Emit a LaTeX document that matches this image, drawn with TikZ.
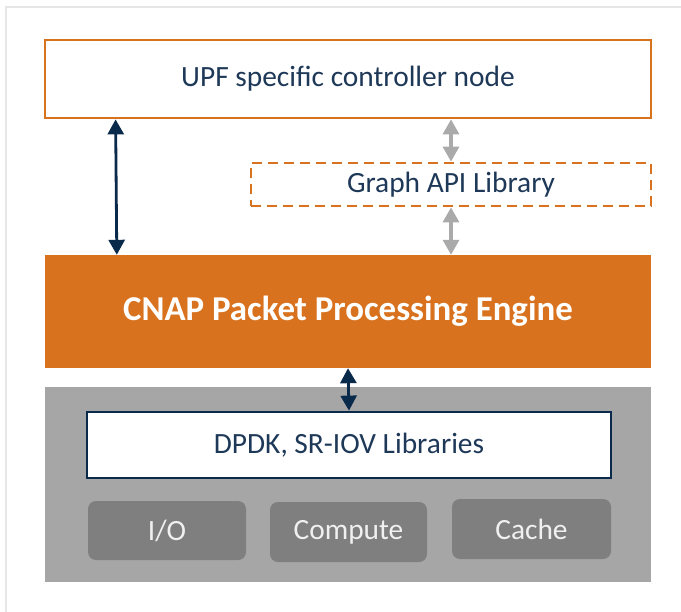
\documentclass[tikz,border=0pt]{standalone}
\usepackage{fontspec}
\setmainfont{Carlito}
\usetikzlibrary{arrows.meta}
\definecolor{cnaporange}{RGB}{217,114,31}
\definecolor{navy}{RGB}{10,42,76}
\definecolor{textblue}{RGB}{30,56,88}
\definecolor{blockgray}{RGB}{166,166,166}
\definecolor{unitgray}{RGB}{127,127,127}
\definecolor{arrowgray}{RGB}{170,170,170}
\definecolor{framegray}{RGB}{230,230,230}
\begin{document}
\begin{tikzpicture}[x=1bp,y=-1bp,
    layer/.style={draw=cnaporange,line width=2.8bp,fill=white,text=textblue,
        minimum width=606bp,minimum height=78bp,inner sep=0pt},
    unit/.style={fill=unitgray,rounded corners=8bp,text=white!94!black,
        minimum width=158bp,minimum height=59bp,inner sep=0pt},
    link/.style={{Triangle[width=16bp,length=15bp]}-{Triangle[width=16bp,length=15bp]},
        line width=2.8bp,draw=navy},
    apilink/.style={link,draw=arrowgray,line width=3.2bp}]
    \fontsize{29.5}{33}\selectfont
    \useasboundingbox (0,0) rectangle (681,612);
    \draw[framegray,line width=1.5bp] (6,612) -- (6,7) -- (681,7);
    \node[layer] (upf) at (348,79) {UPF specific controller node};
    \node[layer,dashed,dash pattern=on 10bp off 6bp,minimum width=400bp,minimum height=43bp] (graph) at (451,184.5) {Graph API Library};
    \node[fill=cnaporange,text=white,minimum width=606bp,minimum height=113bp,inner sep=0pt,font=\fontsize{35}{40}\selectfont\bfseries] (cnap) at (348,311.5) {CNAP Packet Processing Engine};
    \node[fill=blockgray,minimum width=606bp,minimum height=195bp,inner sep=0pt] (hw) at (348,484.5) {};
    \node[draw=navy,line width=2.8bp,fill=white,text=textblue,minimum width=524bp,minimum height=66bp,inner sep=0pt] (dpdk) at (349,445) {DPDK, SR-IOV Libraries};
    \node[unit] (io) at (167,530.5) {I/O};
    \node[unit,minimum width=157bp,minimum height=60bp] (compute) at (348.5,532) {Compute};
    \node[unit,minimum width=159bp,minimum height=60bp] (cache) at (531.5,529) {Cache};
    \draw[link] ([xshift=72bp]upf.south west) -- ([xshift=72bp]cnap.north west);
    \draw[apilink] (upf.south -| graph) -- (graph.north);
    \draw[apilink] (graph.south) -- (graph.south |- cnap.north);
    \draw[link] (cnap.south) -- (dpdk.north);
\end{tikzpicture}
\end{document}
